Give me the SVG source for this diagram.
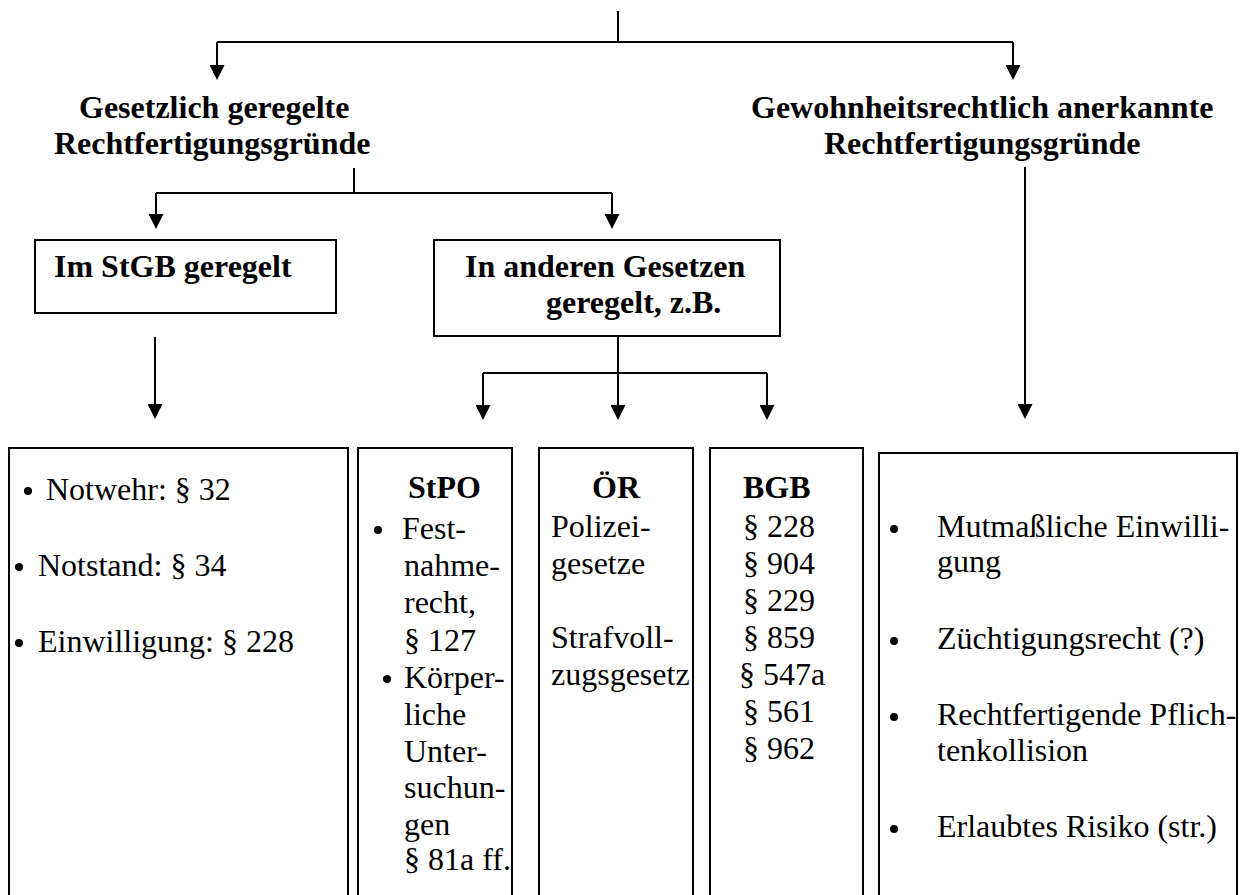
<svg xmlns="http://www.w3.org/2000/svg" width="1242" height="895" viewBox="0 0 1242 895">
<style>
.t{font-family:"Liberation Serif","Times New Roman",serif;font-size:32px;fill:#000}
.b{font-weight:bold}
.box{fill:none;stroke:#000;stroke-width:2}
.ln{fill:none;stroke:#000;stroke-width:2}
.arr{fill:none;stroke:#000;stroke-width:2;marker-end:url(#ah)}
.dot{fill:#000}
</style>
<defs>
<marker id="ah" markerUnits="userSpaceOnUse" markerWidth="15" markerHeight="15" refX="12" refY="7.5" orient="auto">
<path d="M0,0 L15,7.5 L0,15 z" fill="#000"/>
</marker>
</defs>
<rect width="1242" height="895" fill="#fff"/>
<g id="connectors">
<path class="ln" d="M618,11 V42"/>
<path class="ln" d="M217,42 H1013"/>
<path class="arr" d="M217,42 V77"/>
<path class="arr" d="M1013,42 V77"/>
<path class="ln" d="M354,168 V193"/>
<path class="ln" d="M156,193 H612"/>
<path class="arr" d="M156,193 V226"/>
<path class="arr" d="M612,193 V226"/>
<path class="arr" d="M155,337 V416"/>
<path class="arr" d="M618,336 V417"/>
<path class="ln" d="M483,373 H767"/>
<path class="arr" d="M483,373 V417"/>
<path class="arr" d="M767,373 V417"/>
<path class="arr" d="M1025,167 V416"/>
</g>
<g id="gesetzlich">
<text class="t b" x="79" y="118">Gesetzlich geregelte</text>
<text class="t b" x="54" y="154">Rechtfertigungsgründe</text>
</g>
<g id="gewohnheitsrechtlich">
<text class="t b" x="751" y="118">Gewohnheitsrechtlich anerkannte</text>
<text class="t b" x="824" y="154">Rechtfertigungsgründe</text>
</g>
<g id="stgb">
<rect class="box" x="35" y="240" width="301" height="73"/>
<text class="t b" x="54" y="277">Im StGB geregelt</text>
</g>
<g id="andere">
<rect class="box" x="434" y="240" width="346" height="96"/>
<text class="t b" x="465" y="277">In anderen Gesetzen</text>
<text class="t b" x="546" y="313">geregelt, z.B.</text>
</g>
<g id="stgb-list">
<rect class="box" x="9" y="448" width="339" height="460"/>
<circle class="dot" cx="28" cy="491" r="4"/>
<text class="t" x="46" y="500">Notwehr: § 32</text>
<circle class="dot" cx="19" cy="567" r="4"/>
<text class="t" x="38" y="576">Notstand: § 34</text>
<circle class="dot" cx="19" cy="643" r="4"/>
<text class="t" x="38" y="652">Einwilligung: § 228</text>
</g>
<g id="stpo">
<rect class="box" x="358" y="448" width="154" height="460"/>
<text class="t b" x="408" y="498">StPO</text>
<circle class="dot" cx="378" cy="530" r="4"/>
<text class="t" x="402" y="539">Fest-</text>
<text class="t" x="404" y="576">nahme-</text>
<text class="t" x="404" y="613">recht,</text>
<text class="t" x="404" y="651">§ 127</text>
<circle class="dot" cx="387" cy="679" r="4"/>
<text class="t" x="404" y="688">Körper-</text>
<text class="t" x="404" y="725">liche</text>
<text class="t" x="404" y="762">Unter-</text>
<text class="t" x="404" y="798">suchun-</text>
<text class="t" x="404" y="835">gen</text>
<text class="t" x="404" y="870">§ 81a ff.</text>
</g>
<g id="oer">
<rect class="box" x="539" y="448" width="154" height="460"/>
<text class="t b" x="592" y="498">ÖR</text>
<text class="t" x="551" y="537">Polizei-</text>
<text class="t" x="551" y="574">gesetze</text>
<text class="t" x="551" y="648">Strafvoll-</text>
<text class="t" x="551" y="685">zugsgesetz</text>
</g>
<g id="bgb">
<rect class="box" x="710" y="448" width="153" height="460"/>
<text class="t b" x="743" y="498">BGB</text>
<text class="t" x="743" y="537">§ 228</text>
<text class="t" x="743" y="574">§ 904</text>
<text class="t" x="743" y="611">§ 229</text>
<text class="t" x="743" y="648">§ 859</text>
<text class="t" x="739" y="685">§ 547a</text>
<text class="t" x="743" y="722">§ 561</text>
<text class="t" x="743" y="759">§ 962</text>
</g>
<g id="gewohnheit-list">
<rect class="box" x="879" y="453" width="358" height="460"/>
<circle class="dot" cx="894" cy="529" r="4"/>
<text class="t" x="937" y="537">Mutmaßliche Einwilli-</text>
<text class="t" x="937" y="572">gung</text>
<circle class="dot" cx="894" cy="641" r="4"/>
<text class="t" x="937" y="649">Züchtigungsrecht (?)</text>
<circle class="dot" cx="894" cy="717" r="4"/>
<text class="t" x="937" y="725">Rechtfertigende Pflich-</text>
<text class="t" x="937" y="761">tenkollision</text>
<circle class="dot" cx="894" cy="829" r="4"/>
<text class="t" x="937" y="837">Erlaubtes Risiko (str.)</text>
</g>
</svg>
